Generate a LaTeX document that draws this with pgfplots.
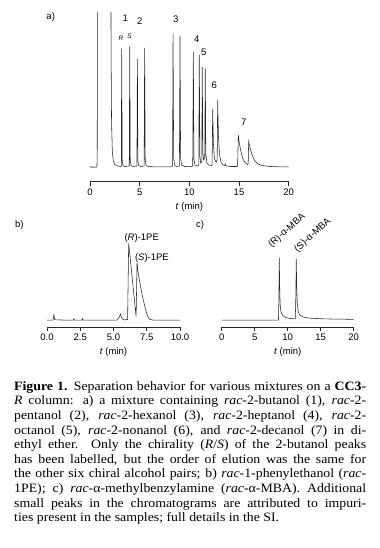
\documentclass[border=0pt]{standalone}
\usepackage{pgfplots}
\pgfplotsset{compat=1.18}
\usepackage{fontspec}
\setmainfont[FakeStretch=1.08]{Liberation Serif}
\newfontfamily\sansf{Liberation Sans}
\newcommand{\chartfont}{\sansf\fontsize{9.5bp}{11bp}\selectfont}
\newcommand{\smallfont}{\sansf\fontsize{6.5bp}{7bp}\selectfont}
\newcommand{\capfont}{\fontsize{12.8bp}{14.6bp}\selectfont}
\definecolor{trace}{gray}{0.15}
\pgfplotsset{
  tr/.style={line width=0.55pt,color=trace,mark=none},
  chrom/.style={
    scale only axis,
    anchor=south west,
    axis y line=none,
    axis x line=bottom,
    x axis line style={-,line width=0.6pt,color=trace},
    tick align=outside,
    major tick length=4bp,
    xtick style={line width=0.6pt,color=trace},
    minor tick num=0,
    ticklabel style={font=\chartfont},
    xlabel style={font=\chartfont},
    clip mode=individual,
  }
}
\begin{document}
\begin{tikzpicture}
\useasboundingbox (0,0) rectangle (380bp,-548bp);
% ---------------- panel a ----------------
\begin{axis}[chrom,
  at={(90bp,-181.7bp)}, width=198.7bp, height=169.7bp,
  xmin=0, xmax=20, ymin=-13.7, ymax=156,
  xtick={0,5,10,15,20}, xticklabels={0,5,10,15,20},
  xlabel={\textit{t} (min)}]
\addplot[tr] coordinates {
(0,0.8) (0.1,1.5) (0.2,0.6) (0.3,1.2) (0.45,0.7) (0.6,1.0) (0.7,0.8)
(0.73,20) (0.75,300) (2.08,300) (2.12,120) (2.17,45) (2.25,16) (2.35,7) (2.5,3.5) (2.8,2) (3.1,1.5)
(3.15,2) (3.19,119.3) (3.24,8) (3.32,2.5) (3.5,1.5)
(3.95,2) (4.0,121.5) (4.05,8) (4.13,2.5) (4.3,1.5)
(4.72,2) (4.77,109) (4.82,7) (4.9,2.5) (5.1,1.5)
(5.45,2) (5.50,120) (5.56,8) (5.65,2.5) (5.9,1.3) (7,1.1) (8.2,1.2)
(8.31,2) (8.36,134.5) (8.42,10) (8.52,3) (8.7,1.5)
(9.0,2) (9.06,132) (9.12,10) (9.22,3) (9.5,1.5) (10.2,1.4)
(10.34,2) (10.40,116) (10.46,9) (10.56,3) (10.8,2)
(10.95,3) (11.0,113) (11.06,12) (11.14,5)
(11.25,6) (11.30,101) (11.36,15) (11.43,8)
(11.55,10) (11.60,99.3) (11.66,14) (11.76,5) (11.95,3) (12.2,2.5)
(12.29,3) (12.35,59) (12.42,25) (12.52,10) (12.62,7) (12.72,6)
(12.80,8) (12.85,68) (12.93,32) (13.03,14) (13.18,6) (13.4,3) (13.55,2.5) (13.62,4) (13.7,2)
(14.2,1.5) (14.8,1.5) (14.86,3) (14.93,33)
(15.0,27) (15.1,21) (15.25,14) (15.4,9) (15.6,5.5) (15.85,3.5)
(15.92,4) (15.97,26.5) (16.05,23) (16.2,17) (16.4,11) (16.6,7) (16.9,4) (17.3,2.5) (18,1.6) (19,1.2) (20,1.0)
};
\node[font=\chartfont] at (axis cs:3.55,150) {1};
\node[font=\chartfont] at (axis cs:5.0,146.6) {2};
\node[font=\chartfont] at (axis cs:8.63,148.3) {3};
\node[font=\chartfont] at (axis cs:10.74,128.3) {4};
\node[font=\chartfont] at (axis cs:11.44,116) {5};
\node[font=\chartfont] at (axis cs:12.51,82.6) {6};
\node[font=\chartfont] at (axis cs:15.47,45.3) {7};
\node[font=\smallfont\itshape] at (axis cs:3.12,129.6) {R};
\node[font=\smallfont\itshape] at (axis cs:3.98,131.6) {S};
\end{axis}
% ---------------- panel b ----------------
\begin{axis}[chrom,
  at={(47bp,-327.3bp)}, width=133bp, height=86.6bp,
  xmin=0, xmax=10, ymin=-6.6, ymax=80,
  major tick length=3.5bp,
  xtick={0,2.5,5,7.5,10}, xticklabels={0.0,2.5,5.0,7.5,10.0},
  xlabel={\textit{t} (min)}]
\addplot[tr] coordinates {
(0,0.5) (0.45,0.5) (0.52,6) (0.58,1.2) (0.7,0.8) (1.5,0.6) (1.97,0.6) (2.02,2) (2.07,0.6)
(2.62,0.6) (2.67,2) (2.72,0.6) (5.25,0.6) (5.4,3) (5.52,6.5) (5.62,3) (5.75,0.9) (6.06,1)
(6.14,77.4) (6.3,57) (6.45,37) (6.6,17) (6.7,4)
(6.77,58.4) (6.85,48) (7.0,37) (7.12,28) (7.25,20) (7.38,13) (7.5,7) (7.62,3) (7.75,1.2) (8,0.6) (10,0.5)
};
\node[font=\chartfont] at (axis cs:7.12,83) {(\textit{R})-1PE};
\node[font=\chartfont] at (axis cs:7.89,63) {(\textit{S})-1PE};
\end{axis}
% ---------------- panel c ----------------
\begin{axis}[chrom,
  at={(221.7bp,-327.3bp)}, width=132bp, height=76.6bp,
  xmin=0, xmax=20, ymin=-6.6, ymax=70,
  major tick length=3.5bp,
  xtick={0,5,10,15,20}, xticklabels={0,5,10,15,20},
  xlabel={\textit{t} (min)}]
\addplot[tr] coordinates {
(0,0.6) (8.6,0.6) (8.66,20) (8.73,63) (8.78,35) (8.85,17) (8.95,10) (9.1,7) (9.3,5) (9.7,3.3) (10.3,2.3) (11.15,1.8)
(11.22,20) (11.30,61.7) (11.36,35) (11.45,17) (11.6,9) (11.8,6) (12.1,4.5) (12.6,3.3) (13.5,2.5) (15,2) (17,1.6) (20,1.4)
};
\node[font=\chartfont, rotate=42, anchor=south west, inner sep=0.5pt] at (axis cs:7.75,70.5) {(R)-α-MBA};
\node[font=\chartfont, rotate=42, anchor=south west, inner sep=0.5pt] at (axis cs:11.7,66) {(S)-α-MBA};
\end{axis}
% ---------------- panel letters ----------------
\node[font=\chartfont] at (50.7bp,-16.7bp) {a)};
\node[font=\chartfont] at (19.3bp,-225bp) {b)};
\node[font=\chartfont] at (200bp,-225bp) {c)};
% ---------------- caption ----------------
\node[anchor=north west, inner sep=0pt, text width=352bp, align=justify, font=\capfont] at (14bp,-381bp) {%
\textbf{Figure 1.} Separation behavior for various mixtures on a \textbf{CC3-}\linebreak
\textit{R} column: a) a mixture containing \textit{rac}-2-butanol (1), \textit{rac}-2-\linebreak
pentanol (2), \textit{rac}-2-hexanol (3), \textit{rac}-2-heptanol (4), \textit{rac}-2-\linebreak
octanol (5), \textit{rac}-2-nonanol (6), and \textit{rac}-2-decanol (7) in di-\linebreak
ethyl ether. Only the chirality (\textit{R}/\textit{S}) of the 2-butanol peaks\linebreak
has been labelled, but the order of elution was the same for\linebreak
the other six chiral alcohol pairs; b) \textit{rac}-1-phenylethanol (\textit{rac}-\linebreak
1PE); c) \textit{rac}-α-methylbenzylamine (\textit{rac}-α-MBA). Additional\linebreak
small peaks in the chromatograms are attributed to impuri-\linebreak
ties present in the samples; full details in the SI.};
\end{tikzpicture}
\end{document}
